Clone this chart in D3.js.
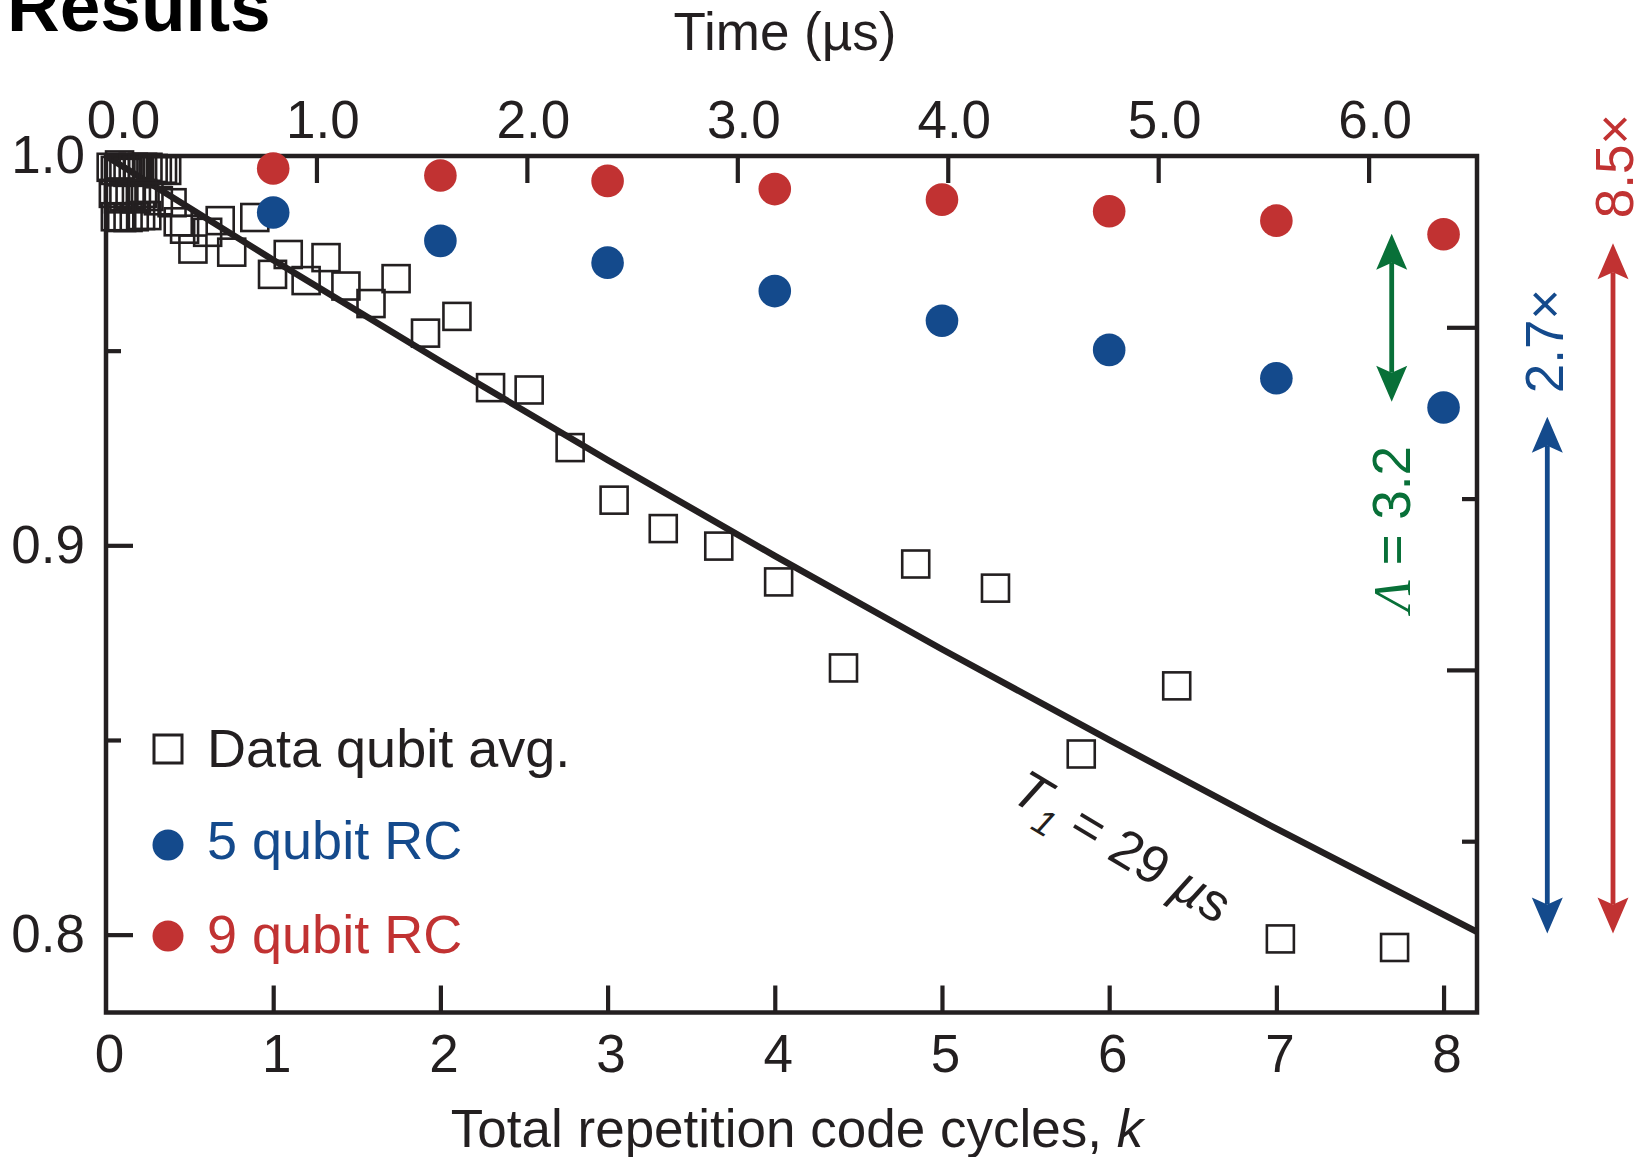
<!DOCTYPE html>
<html><head><meta charset="utf-8">
<script src="https://cdn.jsdelivr.net/npm/d3@7"></script>
<style>
body{margin:0;background:#fff}
svg{display:block}
text{font-family:"Liberation Sans",Arial,Helvetica,sans-serif}
</style>
</head><body>
<svg id="chart" width="1643" height="1157"></svg>
<script>
// ---------------- data ----------------
const rcCycles = [1, 2, 3, 4, 5, 6, 7, 8];
const rc9Fidelity = [0.9968, 0.9950, 0.9936, 0.9915, 0.9888, 0.9858, 0.9834, 0.9799];
const rc5Fidelity = [0.9855, 0.9782, 0.9726, 0.9653, 0.9577, 0.9502, 0.9429, 0.9354];

const dataQubitK = [
  0.031,0.056,0.081,0.107,0.132,0.163,0.188,0.219,0.251,0.282,0.307,0.338,0.363,
  0.044,0.075,0.107,0.144,0.182,0.219,0.257,
  0.056,0.094,0.132,0.169,0.207,0.244,
  0.313,0.395,0.432,0.470,0.520,0.608,0.683,0.752,0.890,
  0.996,1.090,1.197,1.316,1.435,1.585,1.735,1.911,2.099,2.300,2.531,2.776,
  3.039,3.333,3.665,4.023,4.411,4.843,5.320,5.833,6.404,7.024,7.707
];
const dataQubitF = [
  0.9971,0.9963,0.9977,0.9968,0.9958,0.9971,0.9963,0.9971,0.9971,0.9968,0.9963,0.9966,0.9963,
  0.9904,0.9890,0.9896,0.9901,0.9890,0.9904,0.9896,
  0.9844,0.9842,0.9842,0.9844,0.9847,0.9847,
  0.9885,0.9880,0.9831,0.9812,0.9761,0.9804,0.9834,0.9753,0.9842,
  0.9696,0.9747,0.9680,0.9739,0.9666,0.9621,0.9685,0.9545,0.9588,0.9405,0.9399,0.9251,
  0.9116,0.9043,0.8998,0.8906,0.8685,0.8952,0.8890,0.8464,0.8639,0.7989,0.7967
];

// T1 = 29 us decay curve
const fitK = [0, 1, 2, 3, 4, 5, 6, 7, 8.2];
const fitF = [1.000, 0.9733, 0.9473, 0.9219, 0.8973, 0.8733, 0.8500, 0.8272, 0.8007];

const kTickLabels = [0, 1, 2, 3, 4, 5, 6, 7, 8];
const timeTickLabels = [0, 1, 2, 3, 4, 5, 6];
const fidMajorTicks = [0.8, 0.9, 1.0];
const fidMinorTicks = [0.85, 0.95];
const rightMinorTicks = [1, 3];
const rightMajorTicks = [2, 4];

const legendLabels = ["Data qubit avg.", "5 qubit RC", "9 qubit RC"];
const arrowSpans = [[0.9800, 0.9369], [0.9330, 0.8003], [0.9776, 0.8003]];
const arrowLabels = ["3.2", "2.7×", "8.5×"];

// ---------------- styling ----------------
const INK = "#231f20", RED = "#c13232", BLUE = "#144a8c", GREEN = "#087038";
const FS = 53;

const svg = d3.select("#chart");
const L = 106, R = 1477, T = 156, B = 1012.5;

const x = d3.scaleLinear().domain([0, 8.2]).range([L, R]);
const tScale = d3.scaleLinear().domain([0, 6.515]).range([L, R]);
const y = d3.scaleLinear().domain([0.78, 1.0]).range([B, T]);
const yR = d3.scaleLinear().domain([0, 5]).range([B, T]);

// Title (cut at top edge, as in the reference)
svg.append("text").attr("x", 7).attr("y", 31)
  .attr("font-size", 73).attr("font-weight", "bold").attr("fill", "#000").text("Results");

function styleAxis(g){
  g.select(".domain").remove();
  g.selectAll(".tick line").attr("stroke", INK).attr("stroke-width", 4.2);
  g.selectAll(".tick text").attr("fill", INK).attr("font-size", FS)
    .attr("font-family", '"Liberation Sans",Arial,sans-serif');
}

// bottom
const gB = svg.append("g").attr("transform", `translate(0,${B})`)
  .call(d3.axisBottom(x).tickValues(kTickLabels).tickSizeInner(-27).tickSizeOuter(0)
    .tickPadding(22).tickFormat(d3.format("d")))
  .call(styleAxis);
gB.selectAll(".tick").filter(d => d === 0).select("line").remove();
gB.selectAll(".tick text").attr("dx", 3);

// top
const gT = svg.append("g").attr("transform", `translate(0,${T})`)
  .call(d3.axisTop(tScale).tickValues(timeTickLabels).tickSizeInner(-27).tickSizeOuter(0)
    .tickPadding(18).tickFormat(d3.format(".1f")))
  .call(styleAxis);
gT.selectAll(".tick").filter(d => d === 0).select("line").remove();
gT.selectAll(".tick text").attr("dx", d => d === 0 ? 17 : 6);

// left major + minor
const gL = svg.append("g").attr("transform", `translate(${L},0)`)
  .call(d3.axisLeft(y).tickValues(fidMajorTicks).tickSizeInner(-27).tickSizeOuter(0)
    .tickPadding(21).tickFormat(d3.format(".1f")))
  .call(styleAxis);
gL.selectAll(".tick").filter(d => d === 1.0).select("line").remove();
svg.append("g").attr("transform", `translate(${L},0)`)
  .call(d3.axisLeft(y).tickValues(fidMinorTicks).tickSizeInner(-15).tickSizeOuter(0).tickFormat(""))
  .call(styleAxis);

// right (unlabelled)
svg.append("g").attr("transform", `translate(${R},0)`)
  .call(d3.axisRight(yR).tickValues(rightMinorTicks).tickSizeInner(-15).tickSizeOuter(0).tickFormat(""))
  .call(styleAxis);
svg.append("g").attr("transform", `translate(${R},0)`)
  .call(d3.axisRight(yR).tickValues(rightMajorTicks).tickSizeInner(-30).tickSizeOuter(0).tickFormat(""))
  .call(styleAxis);

// frame
svg.append("rect").attr("x", L).attr("y", T).attr("width", R - L).attr("height", B - T)
  .attr("fill", "none").attr("stroke", INK).attr("stroke-width", 4.5);

// axis titles
svg.append("text").attr("x", 785).attr("y", 50).attr("text-anchor", "middle")
  .attr("font-size", FS).attr("fill", INK).text("Time (µs)");
const bt = svg.append("text").attr("x", 797).attr("y", 1147).attr("text-anchor", "middle")
  .attr("font-size", FS).attr("fill", INK);
bt.append("tspan").text("Total repetition code cycles, ");
bt.append("tspan").attr("font-style", "italic").text("k");

// fit line
const fitData = fitK.map((k, i) => ({k, f: fitF[i]}));
svg.append("path").datum(fitData)
  .attr("d", d3.line().x(d => x(d.k)).y(d => y(d.f)).curve(d3.curveMonotoneX))
  .attr("fill", "none").attr("stroke", INK).attr("stroke-width", 6.5);

// data qubit squares
const SQ = 27;
const sqData = dataQubitK.map((k, i) => ({k, f: dataQubitF[i]}));
svg.append("g").selectAll("rect").data(sqData).join("rect")
  .attr("x", d => x(d.k) - SQ / 2).attr("y", d => y(d.f) - SQ / 2)
  .attr("width", SQ).attr("height", SQ)
  .attr("fill", "none").attr("stroke", INK).attr("stroke-width", 2.6);

// RC dots
const RDOT = 16.3;
svg.append("g").selectAll("circle").data(rcCycles.map((k, i) => ({k, f: rc5Fidelity[i]}))).join("circle")
  .attr("cx", d => x(d.k)).attr("cy", d => y(d.f)).attr("r", RDOT).attr("fill", BLUE);
svg.append("g").selectAll("circle").data(rcCycles.map((k, i) => ({k, f: rc9Fidelity[i]}))).join("circle")
  .attr("cx", d => x(d.k)).attr("cy", d => y(d.f)).attr("r", RDOT).attr("fill", RED);

// T1 label
const t1 = svg.append("text").attr("transform", "translate(1113,862) rotate(31)")
  .attr("text-anchor", "middle").attr("font-size", FS).attr("fill", INK);
t1.append("tspan").attr("font-style", "italic").text("T");
t1.append("tspan").attr("font-style", "italic").attr("font-size", 36).attr("dy", 14).text("1");
t1.append("tspan").attr("dy", -14).text(" = 29 ");
t1.append("tspan").attr("font-style", "italic").text("µ");
t1.append("tspan").text("s");

// legend
const LX = 168, TX = 207;
svg.append("rect").attr("x", LX - 14).attr("y", 749 - 14).attr("width", 28).attr("height", 28)
  .attr("fill", "none").attr("stroke", INK).attr("stroke-width", 3);
svg.append("circle").attr("cx", LX).attr("cy", 845).attr("r", 15.5).attr("fill", BLUE);
svg.append("circle").attr("cx", LX).attr("cy", 936).attr("r", 15.5).attr("fill", RED);
const legendColors = [INK, BLUE, RED];
const legendY = [767, 859, 953];
legendLabels.forEach((lab, i) => {
  svg.append("text").attr("x", TX).attr("y", legendY[i]).attr("font-size", 54)
    .attr("fill", legendColors[i]).text(lab);
});

// double arrows
function doubleArrow(xp, f0, f1, color){
  const y0 = y(f0), y1 = y(f1);
  const hl = 36, hw = 15.5, notch = 7;
  svg.append("line").attr("x1", xp).attr("x2", xp).attr("y1", y0 + hl - notch).attr("y2", y1 - hl + notch)
    .attr("stroke", color).attr("stroke-width", 4.8);
  svg.append("path").attr("fill", color)
    .attr("d", `M${xp},${y0} L${xp - hw},${y0 + hl} L${xp},${y0 + hl - notch} L${xp + hw},${y0 + hl} Z`);
  svg.append("path").attr("fill", color)
    .attr("d", `M${xp},${y1} L${xp - hw},${y1 - hl} L${xp},${y1 - hl + notch} L${xp + hw},${y1 - hl} Z`);
}
const arrowX = [1391.7, 1547.3, 1613];
const arrowColors = [GREEN, BLUE, RED];
arrowSpans.forEach((s, i) => doubleArrow(arrowX[i], s[0], s[1], arrowColors[i]));

// arrow labels (rotated)
const lam = svg.append("text").attr("transform", "translate(1410,529) rotate(-90)")
  .attr("text-anchor", "middle").attr("font-size", FS).attr("fill", GREEN);
lam.append("tspan").attr("font-family", '"Liberation Serif","Times New Roman",serif')
  .attr("font-style", "italic").text("Λ");
lam.append("tspan").text(" = " + arrowLabels[0]);
svg.append("text").attr("transform", "translate(1563,341) rotate(-90)")
  .attr("text-anchor", "middle").attr("font-size", FS).attr("fill", BLUE).text(arrowLabels[1]);
svg.append("text").attr("transform", "translate(1633,166) rotate(-90)")
  .attr("text-anchor", "middle").attr("font-size", FS).attr("fill", RED).text(arrowLabels[2]);
</script>
</body></html>
